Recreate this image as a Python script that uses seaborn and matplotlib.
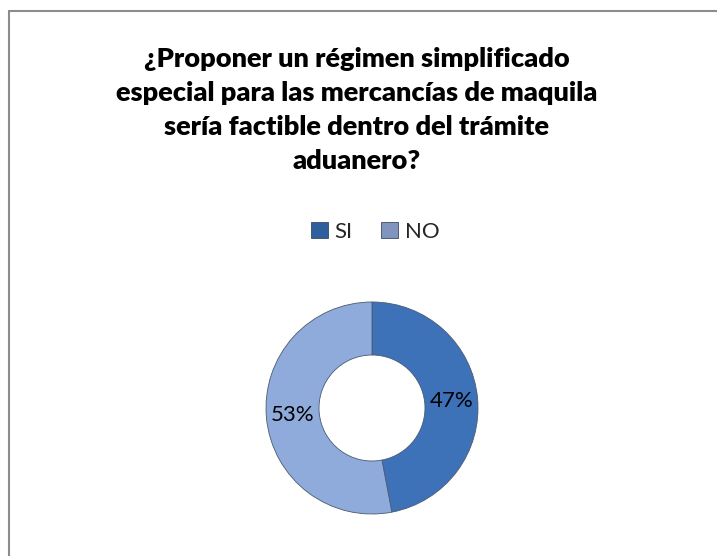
import matplotlib
matplotlib.use("Agg")
import matplotlib.pyplot as plt
import matplotlib.patches as mpatches
from matplotlib.lines import Line2D
import seaborn as sns

# datos de la encuesta
categorias = ["SI", "NO"]
porcentajes = [47, 53]
colores = ["#3d72b9", "#8fabdb"]
titulo = ("¿Proponer un régimen simplificado\n"
          "especial para las mercancías de maquila\n"
          "sería factible dentro del trámite\n"
          "aduanero?")

sns.set_theme(style="white")
plt.rcParams['font.family'] = ['Lato', 'DejaVu Sans']

W, H = 717, 556
fig = plt.figure(figsize=(W / 100, H / 100), dpi=100)
fig.patch.set_facecolor("white")

# marco (solo lineas superior e izquierda visibles)
fig.add_artist(Line2D([9 / W, 9 / W], [0, 1 - 11 / H], color="#8c8c8c", lw=1.5))
fig.add_artist(Line2D([9 / W, 1], [1 - 11 / H, 1 - 11 / H], color="#8c8c8c", lw=1.5))

fig.text(357 / W, 1 - 110 / H, titulo, ha="center", va="center",
         fontsize=19.5, fontweight="heavy", linespacing=1.5, color="black")

# donut
cx, cy, r = 372, 408, 106
ax = fig.add_axes([(cx - r) / W, (H - cy - r) / H, 2 * r / W, 2 * r / H])
wedges, texts, autotexts = ax.pie(
    porcentajes, colors=colores, startangle=90, counterclock=False,
    autopct="%.0f%%", pctdistance=0.75,
    wedgeprops=dict(width=0.5, edgecolor="#4a5a70", linewidth=0.6),
    textprops=dict(fontsize=16, color="black"))
ax.set_xlim(-1, 1)
ax.set_ylim(-1, 1)
ax.set_aspect("equal")
ax.axis("off")

handles = [mpatches.Patch(facecolor=c, edgecolor="#3a4a60", linewidth=0.6, label=l)
           for c, l in zip(["#2f5f9e", "#7f95bd"], categorias)]
fig.legend(handles=handles, loc="center", bbox_to_anchor=(375 / W, 1 - 232 / H),
           ncol=2, frameon=False, fontsize=16, handlelength=0.75, handleheight=0.75,
           handletextpad=0.3, columnspacing=1.3)

fig.savefig("out.png", dpi=100, facecolor="white")
